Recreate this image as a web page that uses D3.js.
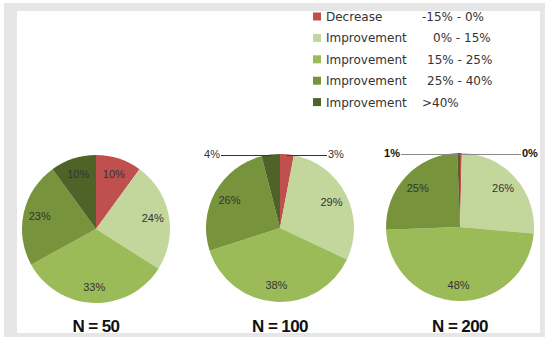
<!DOCTYPE html>
<html><head><meta charset="utf-8">
<script src="https://cdn.jsdelivr.net/npm/d3@7"></script>
<style>body{margin:0;background:#fff}svg{display:block}</style>
</head><body>
<svg id="c" width="545" height="337"></svg>
<script>
// ---- data ----
const categories = ["Decrease", "Improvement", "Improvement", "Improvement", "Improvement"];
const ranges = ["-15% - 0%", "0% - 15%", "15% - 25%", "25% - 40%", ">40%"];
const titles = ["N = 50", "N = 100", "N = 200"];
const seriesN50 = [10, 24, 33, 23, 10];
const seriesN100 = [3, 29, 38, 26, 4];
const seriesN200 = [0.4, 26, 48, 25, 0.6];

// ---- style / layout ----
const colors = ["#C0504D", "#C3D69B", "#9BBB59", "#77933C", "#4F6228"];
const rangeX = [422, 433, 427, 427, 422];
const W = 545, H = 337;
const svg = d3.select("#c");

svg.append("rect").attr("x", 4).attr("y", 3).attr("width", W - 4).attr("height", H - 3).attr("fill", "#e6e6e6");
svg.append("rect").attr("x", 17).attr("y", 11).attr("width", 523).attr("height", 322).attr("fill", "#fff");

const pies = [
  {vals: seriesN50, cx: 96, cy: 229, r: 74, small: {}},
  {vals: seriesN100, cx: 280, cy: 228, r: 74, small: {lx: 220, rx: 328, bold: false, line: "#333"}},
  {vals: seriesN200, cx: 460, cy: 227, r: 74, small: {lx: 400, rx: 522, bold: true, line: "#8a8a8a"}}
];

const pie = d3.pie().sort(null).value(d => d);
const fmt = v => Math.round(v) + "%";

pies.forEach((p, pi) => {
  const g = svg.append("g").attr("transform", `translate(${p.cx},${p.cy})`);
  const arc = d3.arc().innerRadius(0).outerRadius(p.r);
  const labelArc = d3.arc().innerRadius(p.r * 0.78).outerRadius(p.r * 0.78);
  const arcs = pie(p.vals);
  g.selectAll("path").data(arcs).join("path")
    .attr("d", arc).attr("fill", (d, i) => colors[i]);

  arcs.forEach((d, i) => {
    if (d.data >= 5) {
      const [x, y] = labelArc.centroid(d);
      g.append("text").attr("x", x).attr("y", y).attr("dy", "0.35em")
        .attr("text-anchor", "middle")
        .style("font", "11px 'Liberation Sans', Arial, sans-serif")
        .attr("fill", "#333").text(fmt(d.data));
    } else {
      const mid = (d.startAngle + d.endAngle) / 2;
      const px = p.r * Math.sin(mid), py = -p.r * Math.cos(mid);
      const onLeft = Math.sin(mid) < 0;
      const lineY = -p.r + 1.5;
      const tx = (onLeft ? p.small.lx : p.small.rx) - p.cx;
      g.append("line")
        .attr("x1", onLeft ? tx + 1 : px).attr("x2", onLeft ? px : tx - 1)
        .attr("y1", lineY).attr("y2", lineY)
        .attr("stroke", p.small.line).attr("stroke-width", 1);
      g.append("text").attr("x", tx).attr("y", lineY + 2)
        .attr("text-anchor", onLeft ? "end" : "start")
        .style("font", (p.small.bold ? "bold " : "") + "11px 'Liberation Sans', Arial, sans-serif")
        .attr("fill", p.small.bold ? "#111" : "#333").text(fmt(d.data));
    }
  });

  svg.append("text").attr("x", p.cx).attr("y", 332).attr("text-anchor", "middle")
    .style("font", "bold 17px 'Liberation Sans', Arial, sans-serif")
    .style("letter-spacing", "-0.6px")
    .attr("fill", "#111").text(titles[pi]);
});

// legend
const lg = svg.append("g");
categories.forEach((c, i) => {
  const y = 16.5 + i * 21.4;
  lg.append("rect").attr("x", 313).attr("y", y - 4).attr("width", 8).attr("height", 8).attr("fill", colors[i]);
  lg.append("text").attr("x", 326).attr("y", y + 4.5)
    .style("font", "12px 'DejaVu Sans', sans-serif").attr("fill", "#333").text(c);
  lg.append("text").attr("x", rangeX[i]).attr("y", y + 4.5)
    .style("font", "12px 'DejaVu Sans', sans-serif").attr("fill", "#333").text(ranges[i]);
});
</script>
</body></html>
